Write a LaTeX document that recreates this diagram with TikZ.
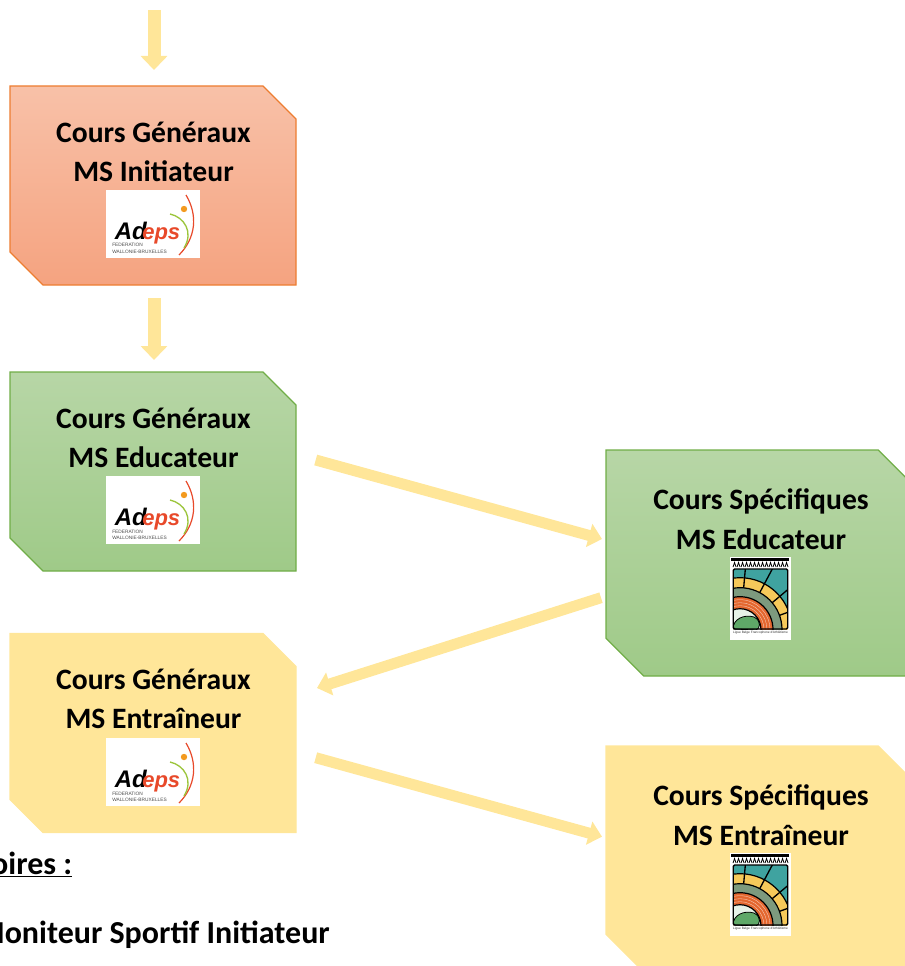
\documentclass[tikz,border=0pt]{standalone}
\usepackage{fontspec}
\setmainfont{Carlito}
\newfontfamily\logofont{Liberation Sans}
\usetikzlibrary{arrows.meta,calc}
\definecolor{arrowy}{HTML}{FFE699}
\definecolor{orA}{HTML}{F8C1A8}
\definecolor{orB}{HTML}{F5A380}
\definecolor{orL}{HTML}{ED7D31}
\definecolor{grA}{HTML}{B7D6A6}
\definecolor{grB}{HTML}{9FCA88}
\definecolor{grL}{HTML}{70AD47}
\definecolor{adred}{HTML}{E8492A}
\definecolor{adgreen}{HTML}{9CC53C}
\definecolor{adorange}{HTML}{F39A1F}
\definecolor{lteal}{HTML}{3FA3A0}
\definecolor{lyellow}{HTML}{F6C95A}
\definecolor{lgrey}{HTML}{7D9A7E}
\definecolor{lorange}{HTML}{E4672F}
\definecolor{lgreen}{HTML}{5FA868}
\newcommand{\chamferoutline}[3]{\path[#2,line width=.9pt] (#1.north west) -- ($(#1.north east)+(-#3,0)$) -- ($(#1.north east)+(0,#3)$) -- (#1.south east) -- ($(#1.south west)+(#3,0)$) -- ($(#1.south west)+(0,-#3)$) -- cycle;}
\tikzset{
  anybox/.style={rectangle,inner sep=0pt,outer sep=0pt},
  smallbox/.style={anybox,minimum width=214.5pt,minimum height=149.25pt},
  bigbox/.style={anybox,minimum width=232.5pt,minimum height=169.5pt},
  orangebox/.style={draw=orL,top color=orA,bottom color=orB},
  greenbox/.style={draw=grL,top color=grA,bottom color=grB},
  yellowbox/.style={draw=arrowy,fill=arrowy},
  boxtext/.style={align=center,inner sep=0pt,font=\fontsize{22.2}{29.6}\selectfont\bfseries},
  bottomtext/.style={inner sep=0pt,anchor=base east,font=\fontsize{24}{28}\selectfont\bfseries},
  bigflow/.style={draw=arrowy,line width=9.75pt,-{Triangle[length=10.5pt,width=19.5pt]}},
  slantflow/.style={draw=arrowy,line width=8.25pt,-{Triangle[length=10pt,width=17.5pt]}},
  adeps/.pic={
    \fill[white] (0,0) rectangle (94,68);
    \node[inner sep=0pt,anchor=base west,font=\logofont\bfseries\itshape\fontsize{18}{18}\selectfont] at (8.5,49) {Ad};
    \node[inner sep=0pt,anchor=base west,text=adred,font=\logofont\bfseries\itshape\fontsize{16.5}{17}\selectfont] at (36,49) {eps};
    \node[inner sep=0pt,anchor=base west,text=black!70,font=\logofont\fontsize{3.6}{4}\selectfont] at (6,57) {FEDERATION};
    \node[inner sep=0pt,anchor=base west,text=black!70,font=\logofont\fontsize{3.6}{4}\selectfont] at (6,63.5) {WALLONIE-BRUXELLES};
    \draw[adred,line width=.9pt] (80,5) .. controls (92,25) and (90,48) .. (73,65);
    \draw[adgreen,line width=1pt] (64,24) .. controls (78,27) and (88,42) .. (78,58);
    \fill[adorange] (78,19) circle [radius=3.2];
  },
  ligue/.pic={
    \fill[white] (0,0) rectangle (61,83);
    \fill[black] (1,1) rectangle (59,3.5);
    \foreach \i in {0,...,13} {\draw[black,line width=.6pt] ({3+\i*4},10) -- ({4.5+\i*4},5.5) -- ({6+\i*4},10);}
    \begin{scope}
      \clip (3.3,12) rectangle (57.7,72);
      \fill[lteal] (3.3,12) rectangle (57.7,72);
      \fill[lyellow] (10,72.7) circle [radius=52];
      \draw[black,line width=.9pt] (10,72.7) circle [radius=52];
      \foreach \a in {-85,-62,-40,-20} {\draw[black,line width=1pt] (10,72.7) -- ++(\a:70);}
      \fill[lgrey] (10,72.7) circle [radius=42];
      \draw[black,line width=.9pt] (10,72.7) circle [radius=42];
      \fill[lorange] (10,72.7) circle [radius=33];
      \draw[black,line width=.9pt] (10,72.7) circle [radius=33];
      \foreach \r in {30,27,24} {\draw[white!70!lorange,line width=.25pt] (10,72.7) circle [radius=\r];}
      \fill[white!85!lgreen] (10,72.7) circle [radius=21];
      \draw[black,line width=.9pt] (10,72.7) circle [radius=21];
      \fill[lgreen,draw=black,line width=.6pt] (3,72) .. controls (3,62) and (14,57) .. (24,60) .. controls (32,64) and (30,72) .. (26,73) -- cycle;
    \end{scope}
    \draw[black,line width=1pt,rounded corners=1pt] (3.3,12) rectangle (57.7,72);
    \node[inner sep=0pt,text=black!80,font=\logofont\fontsize{2.4}{3}\selectfont] at (30.5,75.5) {Ligue Belge Francophone d'Athl\'etisme};
  }
}
\begin{document}
\begin{tikzpicture}[x=.75pt,y=-.75pt]
\useasboundingbox (0,0) rectangle (905,966);
\clip (0,0) rectangle (905,966);
\coordinate (entry) at (154,10);
\node[smallbox] (init) at (153,185.5) {};
\node[smallbox] (edu) at (153,471.5) {};
\node[smallbox] (ent) at (153,733) {};
\node[bigbox] (sedu) at (761,563) {};
\node[bigbox] (sent) at (761,859) {};
\chamferoutline{init}{orangebox}{33}
\chamferoutline{edu}{greenbox}{33}
\chamferoutline{ent}{yellowbox}{33}
\chamferoutline{sedu}{greenbox}{37.7}
\chamferoutline{sent}{yellowbox}{37.7}
\node[boxtext] (initt) at (153.5,152) {Cours Généraux\\MS Initiateur};
\node[boxtext] (edut) at (153.5,438) {Cours Généraux\\MS Educateur};
\node[boxtext] (entt) at (153.5,699) {Cours Généraux\\MS Entraîneur};
\node[boxtext] (sedut) at (761,519) {Cours Spécifiques\\MS Educateur};
\node[boxtext] (sentt) at (761,815) {Cours Spécifiques\\MS Entraîneur};
\pic at (106,190) {adeps};
\pic at (106,476) {adeps};
\pic at (106,738) {adeps};
\pic at (730,557) {ligue};
\pic at (730,853) {ligue};
\draw[bigflow] (entry) -- ($(init.north)+(1,-16)$);
\draw[bigflow] ($(init.south)+(1,13)$) -- ($(edu.north)+(1,-12)$);
\draw[slantflow] ($(edu.east)+(19.7,-11.5)$) -- ($(sedu.west)+(-4,-24)$);
\draw[slantflow] ($(sedu.west)+(-5,34.7)$) -- ($(ent.east)+(21,-45)$);
\draw[slantflow] ($(ent.east)+(19.7,24.7)$) -- ($(sent.west)+(-4,-22.3)$);
\node[bottomtext] (head) at (72.5,874) {\underline{oires :}};
\node[bottomtext] (ms) at (330,943) {Moniteur Sportif Initiateur};
\end{tikzpicture}
\end{document}
